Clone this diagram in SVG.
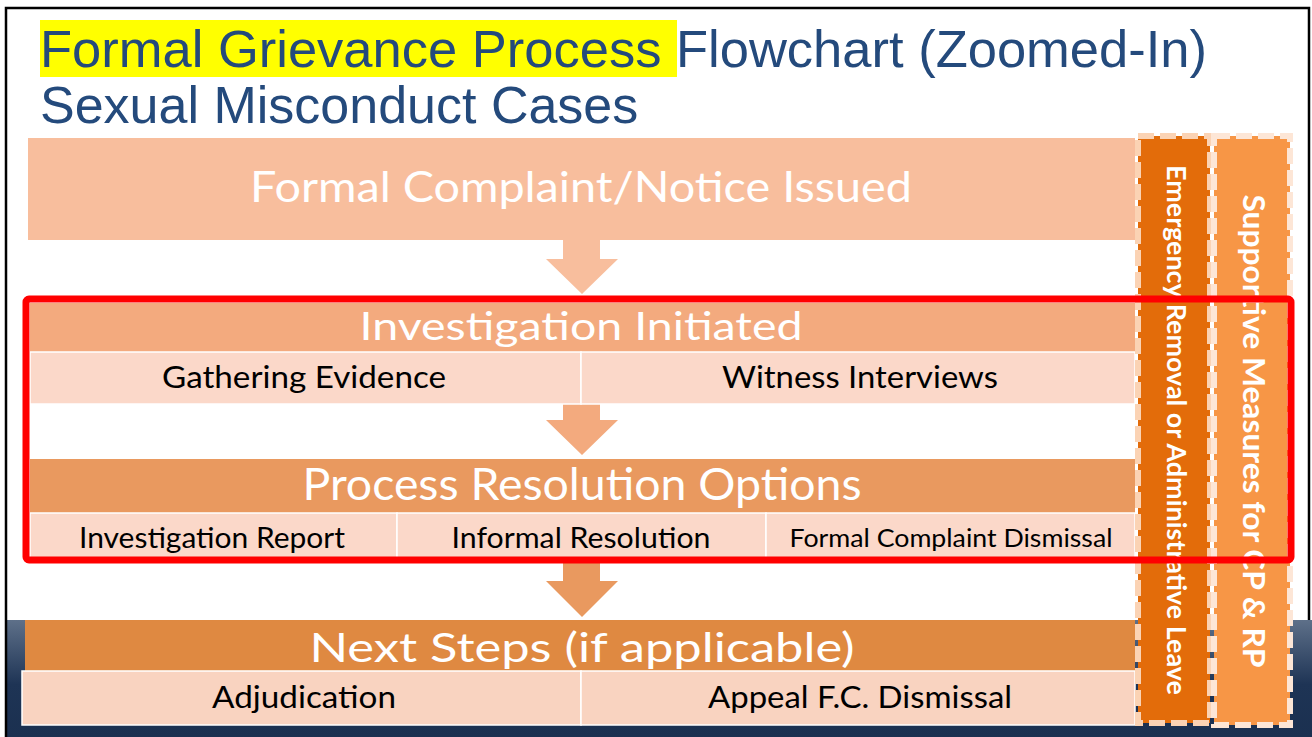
<svg xmlns="http://www.w3.org/2000/svg" width="1312" height="737" viewBox="0 0 1312 737">
  <defs>
    <linearGradient id="navy" x1="0" y1="620" x2="0" y2="737" gradientUnits="userSpaceOnUse">
      <stop offset="0" stop-color="#5e7089"/>
      <stop offset="0.55" stop-color="#1e3455"/>
      <stop offset="1" stop-color="#1b3050"/>
    </linearGradient>
    <style>
      .title { font-family: "Liberation Sans", Arial, sans-serif; font-size: 52px; fill: #244a7c; }
      .hdr { font-family: Lato, "Open Sans", sans-serif; fill: #ffffff; text-anchor: middle; }
      .sub { font-family: Lato, "Open Sans", sans-serif; fill: #000000; text-anchor: middle; }
      .vert { font-family: Lato, "Open Sans", sans-serif; font-weight: 700; fill: #ffffff; text-anchor: middle; }
      .cell { stroke: #ffffff; stroke-width: 1.5; }
      .dash1 { fill: #e36c0a; stroke: #fbd3b4; stroke-width: 6; stroke-dasharray: 16 6; }
      .dash2 { fill: #f79646; stroke: #fde6d6; stroke-width: 6; stroke-dasharray: 16 6; }
    </style>
  </defs>

  <!-- background -->
  <rect x="0" y="0" width="1312" height="737" fill="#ffffff"/>
  <rect x="7" y="620" width="1305" height="117" fill="url(#navy)"/>
  <path d="M6 737 V8 H1309 V620" fill="none" stroke="#000000" stroke-width="2.5"/>

  <!-- title -->
  <g id="title">
    <rect x="40" y="20" width="637" height="57" fill="#ffff00"/>
    <text class="title" x="40" y="67" textLength="1167" lengthAdjust="spacingAndGlyphs">Formal Grievance Process Flowchart (Zoomed-In)</text>
    <text class="title" x="40" y="123">Sexual Misconduct Cases</text>
  </g>

  <!-- connectors -->
  <g id="connectors">
    <polygon points="563,239 600,239 600,259 618,259 582,294 546,259 563,259" fill="#f8be9d"/>
    <polygon points="563,404 600,404 600,420 618,420 582,455 546,420 563,420" fill="#f3aa7e"/>
    <polygon points="563,557 600,557 600,581 618,581 582,617 546,581 563,581" fill="#e9995f"/>
  </g>

  <!-- nodes -->
  <g id="node-formal-complaint">
    <rect x="28" y="138" width="1107" height="102" fill="#f8be9d"/>
    <text class="hdr" x="581" y="202" font-size="42" textLength="662" lengthAdjust="spacingAndGlyphs">Formal Complaint/Notice Issued</text>
  </g>

  <g id="node-investigation">
    <rect x="30" y="303" width="1105" height="49" fill="#f3aa7e"/>
    <text class="hdr" x="581" y="340" font-size="38" textLength="443" lengthAdjust="spacingAndGlyphs">Investigation Initiated</text>
    <rect class="cell" x="30" y="352" width="551" height="52" fill="#fbd8c9"/>
    <rect class="cell" x="581" y="352" width="554" height="52" fill="#fbd8c9"/>
    <text class="sub" x="304" y="388" font-size="31" textLength="284" lengthAdjust="spacingAndGlyphs">Gathering Evidence</text>
    <text class="sub" x="860" y="388" font-size="31" textLength="276" lengthAdjust="spacingAndGlyphs">Witness Interviews</text>
  </g>

  <g id="node-resolution">
    <rect x="30" y="459" width="1105" height="54" fill="#e9995f"/>
    <text class="hdr" x="582" y="500" font-size="44" textLength="559" lengthAdjust="spacingAndGlyphs">Process Resolution Options</text>
    <rect class="cell" x="30" y="513" width="367" height="45" fill="#fbd8c9"/>
    <rect class="cell" x="397" y="513" width="369" height="45" fill="#fbd8c9"/>
    <rect class="cell" x="766" y="513" width="369" height="45" fill="#fbd8c9"/>
    <text class="sub" x="212" y="548" font-size="28" textLength="266" lengthAdjust="spacingAndGlyphs">Investigation Report</text>
    <text class="sub" x="581" y="548" font-size="28" textLength="259" lengthAdjust="spacingAndGlyphs">Informal Resolution</text>
    <text class="sub" x="951" y="547" font-size="25" textLength="323" lengthAdjust="spacingAndGlyphs">Formal Complaint Dismissal</text>
  </g>

  <g id="node-next-steps">
    <rect x="25" y="620" width="1110" height="51" fill="#df8941"/>
    <text class="hdr" x="582" y="662" font-size="40" textLength="545" lengthAdjust="spacingAndGlyphs">Next Steps (if applicable)</text>
    <rect class="cell" x="22" y="671" width="559" height="54" fill="#f9d3c0"/>
    <rect class="cell" x="581" y="671" width="554" height="54" fill="#f9d3c0"/>
    <text class="sub" x="304" y="708" font-size="30" textLength="184" lengthAdjust="spacingAndGlyphs">Adjudication</text>
    <text class="sub" x="860" y="708" font-size="30" textLength="304" lengthAdjust="spacingAndGlyphs">Appeal F.C. Dismissal</text>
  </g>

  <g id="node-emergency">
    <rect class="dash1" x="1138" y="136" width="72" height="587"/>
    <text class="vert" transform="translate(1167,430) rotate(90)" x="0" y="0" font-size="27" textLength="530" lengthAdjust="spacingAndGlyphs">Emergency Removal or Administrative Leave</text>
  </g>

  <g id="node-supportive">
    <rect class="dash2" x="1214" y="136" width="76" height="589"/>
    <text class="vert" transform="translate(1243,431) rotate(90)" x="0" y="0" font-size="30" textLength="473" lengthAdjust="spacingAndGlyphs">Supportive Measures for CP &amp; RP</text>
  </g>

  <!-- red highlight box -->
  <g id="highlight">
    <rect x="26" y="299" width="1265" height="261" rx="3" fill="none" stroke="#ff0000" stroke-width="7"/>
  </g>
</svg>
